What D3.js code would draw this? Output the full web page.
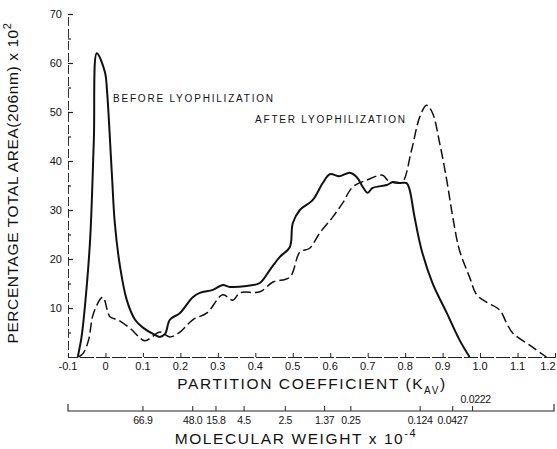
<!DOCTYPE html>
<html><head><meta charset="utf-8">
<script src="https://cdn.jsdelivr.net/npm/d3@7"></script>
<style>
body{margin:0;background:#fff;}
text{font-family:"Liberation Sans","DejaVu Sans",sans-serif;fill:#111;}
</style></head>
<body><svg id="c" width="557" height="449"></svg>
<script>
// ---- data ----
const beforeKav = [-0.074,-0.064,-0.055,-0.041,-0.031,-0.023,-0.001,0.004,0.017,0.025,0.039,0.057,0.079,0.100,0.132,0.145,0.159,0.172,0.199,0.233,0.252,0.287,0.313,0.332,0.377,0.412,0.439,0.465,0.492,0.500,0.519,0.553,0.580,0.599,0.625,0.652,0.671,0.687,0.700,0.713,0.751,0.767,0.785,0.804,0.812,0.825,0.844,0.873,0.911,0.945,0.972];
const beforeVal = [0,4.0,10.2,23.9,44.3,62.0,58.0,54.5,37.5,27.3,18.4,11.6,7.6,6.0,4.5,4.1,4.7,7.6,9.0,12.2,13.1,13.7,14.7,14.3,14.5,15.1,17.8,20.4,22.4,27.3,30.0,32.0,35.5,37.3,36.9,37.6,36.7,34.7,33.5,34.5,35.1,35.7,35.5,35.5,34.1,28.6,21.8,15.1,9.0,3.5,0];
const afterKav = [-0.072,-0.059,-0.045,-0.032,-0.007,0.012,0.033,0.065,0.105,0.124,0.145,0.172,0.199,0.233,0.271,0.313,0.340,0.359,0.412,0.447,0.492,0.519,0.545,0.572,0.607,0.633,0.660,0.697,0.740,0.753,0.777,0.793,0.817,0.839,0.857,0.873,0.892,0.911,0.927,0.945,0.972,0.991,1.017,1.052,1.071,1.087,1.140,1.177];
const afterVal = [0,0.8,3.5,8.9,12.2,8.2,7.6,5.9,3.3,4.1,5.1,4.1,5.1,7.6,9.0,12.7,11.6,13.1,13.3,15.3,16.3,21.4,22.2,25.3,28.6,31.4,34.7,36.1,37.1,36.1,35.5,35.7,42.2,49.0,51.4,49.8,43.7,36.1,28.6,21.8,16.3,12.7,11.2,9.6,6.9,4.9,2.0,0];
const kavTicks = [-0.1,0,0.1,0.2,0.3,0.4,0.5,0.6,0.7,0.8,0.9,1.0,1.1,1.2];
const kavTickLabels = ["-0.1","0","0.1","0.2","0.3","0.4","0.5","0.6","0.7","0.8","0.9","1.0","1.1","1.2"];
const yTicks = [10,20,30,40,50,60,70];
const mwLabels = ["66.9","48.0","15.8","4.5","2.5","1.37","0.25","0.124","0.0427","0.0222"];
const mwKav = [0.100,0.233,0.295,0.370,0.480,0.585,0.655,0.840,0.927,0.980];

// ---- chart ----
const svg = d3.select("#c");
const x = d3.scaleLinear().domain([-0.1,1.2]).range([68,555]);
const y = d3.scaleLinear().domain([0,70]).range([357,14]);

// y axis
const yAxis = d3.axisRight(y).tickValues(d3.range(5,71,5)).tickSize(5)
  .tickFormat(d => yTicks.includes(d) ? d : "");
const gy = svg.append("g").attr("transform","translate(68,0)").call(yAxis);
gy.select(".domain").attr("stroke","#333").attr("stroke-width",1).attr("stroke-dasharray","9,3");
gy.selectAll(".tick line").attr("stroke","#222").attr("stroke-width",1.2)
  .attr("x2", d => yTicks.includes(d) ? 5 : 3);
gy.selectAll(".tick text").attr("x",-6).attr("text-anchor","end").attr("font-size",11).attr("fill","#333");

// x axis
const xAxis = d3.axisTop(x).tickValues(kavTicks).tickSize(4).tickFormat("");
const gx = svg.append("g").attr("transform","translate(0,357)").call(xAxis);
gx.select(".domain").attr("stroke","#222").attr("stroke-width",1).attr("stroke-dasharray","14,2");
gx.selectAll(".tick line").attr("stroke","#222");
svg.append("g").selectAll("text").data(kavTicks).join("text")
  .attr("x", d => Math.min(x(d), 548)).attr("y",370).attr("text-anchor","middle")
  .attr("font-size",11).attr("fill","#333").text((d,i)=>kavTickLabels[i]);

// molecular weight axis
const mwY = 411;
const gm = svg.append("g");
gm.append("path").attr("fill","none").attr("stroke","#222").attr("stroke-width",1.1)
  .attr("d", `M${x(-0.1)},${mwY-7}V${mwY}H${x(1.2)-1}V${mwY-7}`);
gm.selectAll("line").data(mwKav).join("line")
  .attr("x1", d=>x(d)).attr("x2", d=>x(d)).attr("y1", mwY).attr("y2", mwY-5)
  .attr("stroke","#222");
gm.selectAll("text").data(mwLabels).join("text")
  .attr("x",(d,i)=>x(mwKav[i]))
  .attr("y",(d,i)=> d==="0.0222" ? mwY-8 : mwY+13)
  .attr("text-anchor",(d,i)=> d==="0.0222" ? "start" : "middle")
  .attr("dx",(d,i)=> d==="0.0222" ? -12 : 0)
  .attr("font-size",10.5).attr("letter-spacing",-0.3).attr("fill","#333").text(d=>d);

// axis titles
const xt = svg.append("text").attr("x",312).attr("y",389).attr("text-anchor","middle")
  .attr("font-size",15.5).attr("letter-spacing",1.6);
xt.append("tspan").text("PARTITION COEFFICIENT (K");
xt.append("tspan").attr("font-size",10).attr("dy",5).text("AV");
xt.append("tspan").attr("dy",-5).text(")");

const mt = svg.append("text").attr("x",296).attr("y",444).attr("text-anchor","middle")
  .attr("font-size",15.5).attr("letter-spacing",1.6);
mt.append("tspan").text("MOLECULAR WEIGHT x 10");
mt.append("tspan").attr("font-size",11).attr("dy",-7).text("-4");

const yt = svg.append("text").attr("transform","translate(18,183) rotate(-90)")
  .attr("text-anchor","middle").attr("font-size",15.5).attr("letter-spacing",0.6);
yt.append("tspan").text("PERCENTAGE TOTAL AREA(206nm) x 10");
yt.append("tspan").attr("font-size",11).attr("dy",-7).text("2");

// curves
const line = d3.line().x(d=>x(d[0])).y(d=>y(d[1])).curve(d3.curveCatmullRom.alpha(0.5));
const before = beforeKav.map((k,i)=>[k,beforeVal[i]]);
const after = afterKav.map((k,i)=>[k,afterVal[i]]);
svg.append("path").datum(after).attr("d",line).attr("fill","none")
  .attr("stroke","#111").attr("stroke-width",1.5).attr("stroke-dasharray","10,4");
svg.append("path").datum(before).attr("d",line).attr("fill","none")
  .attr("stroke","#111").attr("stroke-width",2);

// annotations
svg.append("text").attr("x",113).attr("y",102).attr("font-size",10).attr("letter-spacing",1.8)
  .text("BEFORE LYOPHILIZATION");
svg.append("text").attr("x",255).attr("y",123).attr("font-size",10).attr("letter-spacing",1.8)
  .text("AFTER LYOPHILIZATION");
</script></body></html>
